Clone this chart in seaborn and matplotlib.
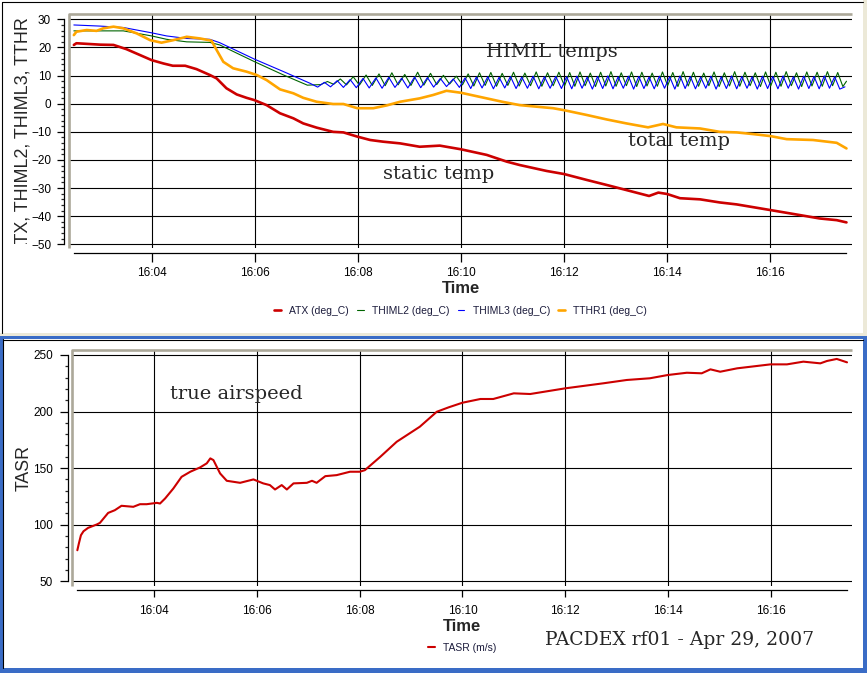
import matplotlib
matplotlib.use('Agg')
import matplotlib.pyplot as plt
from matplotlib.patches import Rectangle
from matplotlib.lines import Line2D
from matplotlib.ticker import MultipleLocator, FuncFormatter
from matplotlib.transforms import Bbox, TransformedBbox
import seaborn as sns

# time axis in minutes after 16:00
atx_time = [2.49, 2.54, 3.0, 3.26, 3.51, 4.0, 4.23, 4.41, 4.65, 4.87,
            5.13, 5.26, 5.45, 5.65, 5.84, 5.99, 6.23, 6.49, 6.75, 6.94,
            7.2, 7.52, 7.72, 7.99, 8.24, 8.49, 8.82, 9.2, 9.59, 10.0,
            10.5, 10.89, 11.14, 11.66, 12.0, 12.44, 12.83, 13.21, 13.65, 13.83,
            14.0, 14.25, 14.64, 15.02, 15.35, 16.0, 16.45, 16.96, 17.29, 17.48]
atx = [20.9, 21.5, 21.0, 20.9, 19.4, 15.5, 14.3, 13.5, 13.5, 12.3,
       10.2, 9.0, 5.5, 3.3, 2.1, 1.3, -0.5, -3.4, -5.2, -7.0,
       -8.5, -10.0, -10.2, -11.7, -12.9, -13.5, -14.1, -15.3, -14.9, -16.2,
       -18.2, -20.6, -21.8, -23.9, -25.0, -27.1, -28.9, -30.7, -32.8, -31.6,
       -32.1, -33.6, -34.0, -35.1, -35.8, -37.8, -39.2, -40.8, -41.4, -42.2]

tthr_time = [2.49, 2.54, 2.74, 2.93, 3.06, 3.26, 3.45, 3.71, 3.97, 4.19,
             4.42, 4.68, 4.94, 5.16, 5.26, 5.39, 5.58, 5.84, 6.04, 6.23,
             6.49, 6.75, 6.94, 7.2, 7.52, 7.72, 7.99, 8.3, 8.56, 8.82,
             9.2, 9.46, 9.72, 10.0, 10.5, 10.8, 11.14, 11.79, 12.0, 12.44,
             12.83, 13.21, 13.63, 13.92, 14.18, 14.64, 15.02, 15.35, 15.67, 16.0,
             16.32, 16.83, 17.29, 17.48]
tthr = [24.4, 25.6, 26.2, 25.9, 26.8, 27.4, 26.8, 25.0, 22.6, 21.7,
        22.6, 23.8, 23.2, 22.4, 19.1, 14.9, 12.6, 11.4, 10.2, 8.4,
        5.1, 3.7, 2.1, 0.7, -0.1, -0.1, -1.6, -1.6, -0.6, 0.7,
        1.9, 3.1, 4.6, 3.9, 1.9, 0.7, -0.5, -1.6, -2.3, -4.0,
        -5.6, -7.0, -8.4, -7.2, -8.4, -8.8, -10.0, -10.2, -10.8, -11.5,
        -12.6, -12.9, -13.9, -15.9]

thiml2_time = [2.49, 3.0, 3.45, 4.0, 4.29, 4.68, 5.13, 5.32, 6.0, 6.56, 7.02,
               7.28, 7.41, 7.53, 7.66, 7.78, 7.91, 8.03, 8.16, 8.28, 8.41,
               8.53, 8.66, 8.78, 8.91, 9.03, 9.16, 9.28, 9.41, 9.53, 9.66,
               9.78, 9.91, 10.03,
               10.14, 10.25, 10.36, 10.47, 10.58, 10.69, 10.80, 10.91, 11.02, 11.13,
               11.24, 11.35, 11.46, 11.57, 11.68, 11.79, 11.90, 12.01,
               12.11, 12.21, 12.31, 12.41, 12.51, 12.61, 12.71, 12.81, 12.91, 13.01,
               13.11, 13.21, 13.31, 13.41, 13.51, 13.61, 13.71, 13.81, 13.91, 14.01,
               14.11, 14.21, 14.31, 14.41, 14.51, 14.61, 14.71, 14.81, 14.91, 15.01,
               15.11, 15.21, 15.31, 15.41, 15.51, 15.61, 15.71, 15.81, 15.91, 16.01,
               16.11, 16.21, 16.31, 16.41, 16.51, 16.61, 16.71, 16.81, 16.91, 17.01,
               17.11, 17.21, 17.31, 17.41, 17.48]
thiml2 = [25.9, 25.9, 25.9, 24.1, 22.9, 22.0, 21.8, 20.9, 14.9, 10.2, 6.6,
          6.8, 7.9, 6.9, 8.8, 6.7, 9.6, 6.6, 10.2, 6.5, 10.6,
          6.4, 11.0, 6.7, 10.4, 6.5, 11.2, 6.6, 10.8, 6.8, 10.1,
          7.0, 9.8, 6.7,
          10.6, 6.3, 11.0, 6.5, 11.1, 6.2, 10.8, 6.5, 11.2, 6.3,
          10.9, 6.4, 11.3, 6.2, 11.0, 6.4, 11.2, 6.3,
          11.1, 6.2, 11.3, 6.4, 10.9, 6.1, 11.2, 6.3, 11.4, 6.2,
          11.0, 6.4, 11.3, 6.1, 11.2, 6.3, 10.9, 6.2, 11.3, 6.4,
          11.1, 6.1, 11.4, 6.3, 11.2, 6.2, 10.9, 6.4, 11.3, 6.1,
          11.0, 6.3, 11.4, 6.2, 11.2, 6.4, 11.0, 6.1, 11.3, 6.3,
          11.2, 6.2, 11.4, 6.4, 11.0, 6.1, 11.3, 6.3, 11.2, 6.2,
          11.4, 6.4, 11.1, 6.1, 8.0]

thiml3_time = [2.49, 3.0, 3.45, 4.0, 4.29, 4.68, 5.13, 5.32, 6.0, 6.56, 7.08,
               7.22, 7.35, 7.47, 7.60, 7.72, 7.85, 7.97, 8.10, 8.22, 8.35,
               8.47, 8.60, 8.72, 8.85, 8.97, 9.10, 9.22, 9.35, 9.47, 9.60,
               9.72, 9.85, 9.97,
               10.08, 10.19, 10.30, 10.41, 10.52, 10.63, 10.74, 10.85, 10.96, 11.07,
               11.18, 11.29, 11.40, 11.51, 11.62, 11.73, 11.84, 11.95,
               12.05, 12.15, 12.25, 12.35, 12.45, 12.55, 12.65, 12.75, 12.85, 12.95,
               13.05, 13.15, 13.25, 13.35, 13.45, 13.55, 13.65, 13.75, 13.85, 13.95,
               14.05, 14.15, 14.25, 14.35, 14.45, 14.55, 14.65, 14.75, 14.85, 14.95,
               15.05, 15.15, 15.25, 15.35, 15.45, 15.55, 15.65, 15.75, 15.85, 15.95,
               16.05, 16.15, 16.25, 16.35, 16.45, 16.55, 16.65, 16.75, 16.85, 16.95,
               17.05, 17.15, 17.25, 17.35, 17.45]
thiml3 = [28.0, 27.6, 27.1, 25.2, 24.1, 23.2, 22.9, 21.7, 15.8, 11.4, 7.2,
          5.9, 7.6, 6.0, 8.2, 5.8, 8.6, 5.7, 9.0, 5.6, 9.2,
          5.5, 9.4, 5.8, 9.1, 5.6, 9.5, 5.7, 9.3, 5.9, 9.0,
          6.1, 8.8, 5.8,
          9.2, 5.4, 9.5, 5.6, 9.6, 5.3, 9.4, 5.6, 9.7, 5.4,
          9.5, 5.5, 9.8, 5.3, 9.6, 5.5, 9.7, 5.4,
          9.6, 5.3, 9.8, 5.5, 9.5, 5.2, 9.7, 5.4, 9.9, 5.3,
          9.6, 5.5, 9.8, 5.2, 9.7, 5.4, 9.5, 5.3, 9.8, 5.5,
          9.6, 5.2, 9.9, 5.4, 9.7, 5.3, 9.5, 5.5, 9.8, 5.2,
          9.6, 5.4, 9.9, 5.3, 9.7, 5.5, 9.6, 5.2, 9.8, 5.4,
          9.7, 5.3, 9.9, 5.5, 9.6, 5.2, 9.8, 5.4, 9.7, 5.3,
          9.9, 5.5, 9.6, 5.2, 6.0]

tasr_time = [2.5, 2.53, 2.57, 2.62, 2.71, 2.88, 2.94, 3.10, 3.23, 3.36,
             3.59, 3.72, 3.85, 4.05, 4.11, 4.21, 4.37, 4.53, 4.70, 4.89,
             5.02, 5.09, 5.15, 5.28, 5.41, 5.67, 5.93, 6.12, 6.25, 6.35,
             6.48, 6.58, 6.71, 6.97, 7.07, 7.16, 7.33, 7.55, 7.81, 8.0,
             8.10, 8.40, 8.72, 9.17, 9.50, 9.73, 10.0, 10.35, 10.6, 11.0,
             11.32, 12.0, 12.75, 13.2, 13.65, 14.0, 14.37, 14.66, 14.83, 15.02,
             15.35, 16.0, 16.32, 16.64, 16.97, 17.1, 17.29, 17.49]
tasr = [77.4, 83.4, 90.7, 94.2, 97.2, 100.2, 101.6, 110.4, 112.8, 116.7,
        115.8, 118.1, 118.1, 119.3, 118.7, 123.2, 132.0, 142.3, 146.8, 150.6,
        154.2, 158.6, 157.1, 145.3, 138.8, 137.0, 140.0, 136.5, 135.0, 131.1,
        135.0, 131.1, 136.5, 137.0, 138.8, 137.0, 142.9, 143.8, 146.8, 146.8,
        148.2, 160.0, 173.3, 186.6, 199.8, 203.7, 207.8, 211.1, 211.1, 216.1,
        215.5, 220.5, 225.0, 227.9, 229.4, 232.3, 234.3, 233.8, 237.3, 235.2,
        238.2, 241.7, 241.7, 244.1, 242.6, 244.7, 246.5, 243.5]

W, H = 867, 673
BEIGE = '#ece9d8'
XPBLUE = '#3a6cc6'
FRAME = '#aca899'

sns.set_style('white')
plt.rcParams['font.family'] = ['Liberation Sans', 'DejaVu Sans']

fig = plt.figure(figsize=(W / 100, H / 100), dpi=100, facecolor=BEIGE)


def fx(x):
    return x / W


def fy(y):
    return 1 - y / H


def rect(x0, y0, x1, y1, color):
    fig.add_artist(Rectangle((fx(x0), fy(y1)), fx(x1 - x0), (y1 - y0) / H,
                             transform=fig.transFigure, color=color, lw=0, zorder=-5))


def hline(x0, x1, y, color='black'):
    fig.add_artist(Line2D([fx(x0), fx(x1)], [fy(y), fy(y)], transform=fig.transFigure,
                          color=color, lw=0.8, zorder=-4))


def vline(x, y0, y1, color='black'):
    fig.add_artist(Line2D([fx(x), fx(x)], [fy(y0), fy(y1)], transform=fig.transFigure,
                          color=color, lw=0.8, zorder=-4))


# window panels
rect(0, 0, 863, 333, 'white')
hline(2, 863, 2)
vline(2, 2, 333)
rect(0, 336, W, H, XPBLUE)
rect(3, 339, 863, 668, 'white')
hline(3, 863, 339.5)
vline(3.5, 339, 668)

ax1 = fig.add_axes([fx(69), fy(248), fx(852 - 69), (248 - 14) / H])
ax2 = fig.add_axes([fx(72), fy(586), fx(852 - 72), (586 - 350) / H])

sns.lineplot(x=atx_time, y=atx, ax=ax1, color='#cc0000', linewidth=1.9, label='ATX (deg_C)')
sns.lineplot(x=thiml2_time, y=thiml2, ax=ax1, color='#006400', linewidth=0.8, label='THIML2 (deg_C)')
sns.lineplot(x=thiml3_time, y=thiml3, ax=ax1, color='#0000ff', linewidth=0.8, label='THIML3 (deg_C)')
sns.lineplot(x=tthr_time, y=tthr, ax=ax1, color='#ffa500', linewidth=1.9, label='TTHR1 (deg_C)')
sns.lineplot(x=tasr_time, y=tasr, ax=ax2, color='#cc0000', linewidth=1.5, label='TASR (m/s)')

time_fmt = FuncFormatter(lambda v, p: f'16:{int(round(v)):02d}')


def style(ax, ylim, major, minor, ybounds, xbounds, off_l, off_b, ylen, xlen, ypad, xpad):
    ax.set_xlim(2.396, 17.587)
    ax.set_ylim(*ylim)
    ax.set_facecolor('white')
    ax.grid(True, which='major', color='black', linewidth=0.8)
    ax.set_axisbelow(True)
    ax.xaxis.set_major_locator(MultipleLocator(2))
    ax.xaxis.set_major_formatter(time_fmt)
    ax.yaxis.set_major_locator(MultipleLocator(major))
    ax.yaxis.set_minor_locator(MultipleLocator(minor))
    for s in ('top', 'right'):
        ax.spines[s].set_visible(False)
    ax.spines['left'].set_position(('outward', off_l))
    ax.spines['bottom'].set_position(('outward', off_b))
    for s in ('left', 'bottom'):
        ax.spines[s].set_color('black')
        ax.spines[s].set_linewidth(0.9)
    ax.spines['left'].set_bounds(*ybounds)
    ax.spines['bottom'].set_bounds(*xbounds)
    ax.tick_params(axis='y', which='major', direction='out', length=ylen, width=0.9,
                   pad=ypad, labelsize=8.5, colors='black', left=True)
    ax.tick_params(axis='y', which='minor', direction='out', length=2.5, width=0.9, left=True)
    ax.tick_params(axis='x', which='major', direction='out', length=xlen, width=0.9,
                   pad=xpad, labelsize=8.5, colors='black', bottom=True)
    # grey frame on top and left edge of the plotting area
    ax.plot([0, 0, 1], [0, 1, 1], transform=ax.transAxes, color=FRAME, lw=1.9,
            clip_on=False, zorder=5, solid_capstyle='butt')


style(ax1, (-51.3, 31.9), 10, 2, (-50, 30), (atx_time[0], atx_time[-1]),
      3.6, 3.6, 5, 6.5, 4.3, 3.6)
style(ax2, (45.8, 254.4), 50, 10, (50, 250), (tasr_time[0], tasr_time[-1]),
      2.9, 3.1, 5.8, 5, 5, 5.4)

# axis titles
ax1.set_xlabel('Time', fontsize=12, fontweight='bold')
ax1.xaxis.set_label_coords(0.5006, -0.141)
ax2.set_xlabel('Time', fontsize=12, fontweight='bold')
ax2.xaxis.set_label_coords(0.5, -0.14)

ax1.set_ylabel('ATX, THIML2, THIML3, TTHR1', fontsize=12.9)
ax1.yaxis.set_label_coords(-0.0473, 0.5)
lbl = ax1.yaxis.label
lbl.set_clip_box(TransformedBbox(Bbox.from_extents(0, fy(244), 1, fy(17)), fig.transFigure))
lbl.set_clip_on(True)
ax2.set_ylabel('TASR', fontsize=12.8)
ax2.yaxis.set_label_coords(-0.05, 0.5)

leg_kw = dict(loc='center', bbox_transform=fig.transFigure, frameon=False, fontsize=7.5,
              handlelength=0.67, handletextpad=0.77, columnspacing=0.77, labelcolor='#1c1c3c')
ax1.legend(ncol=4, bbox_to_anchor=(fx(460.5), fy(311)), **leg_kw)
ax2.legend(ncol=1, bbox_to_anchor=(fx(462), fy(648)), **leg_kw)

serif = ['DejaVu Serif']
ax1.text(10.49, 16.6, 'HIMIL temps', family=serif, fontsize=14, va='baseline')
ax1.text(8.49, -26.8, 'static temp', family=serif, fontsize=14, va='baseline')
ax1.text(13.24, -14.9, 'total temp', family=serif, fontsize=14, va='baseline')
ax2.text(4.31, 211.1, 'true airspeed', family=serif, fontsize=14, va='baseline')
fig.text(fx(545), fy(645), 'PACDEX rf01 - Apr 29, 2007', family=serif, fontsize=13.5, va='baseline')

fig.savefig('out.png', dpi=100, facecolor=fig.get_facecolor())
